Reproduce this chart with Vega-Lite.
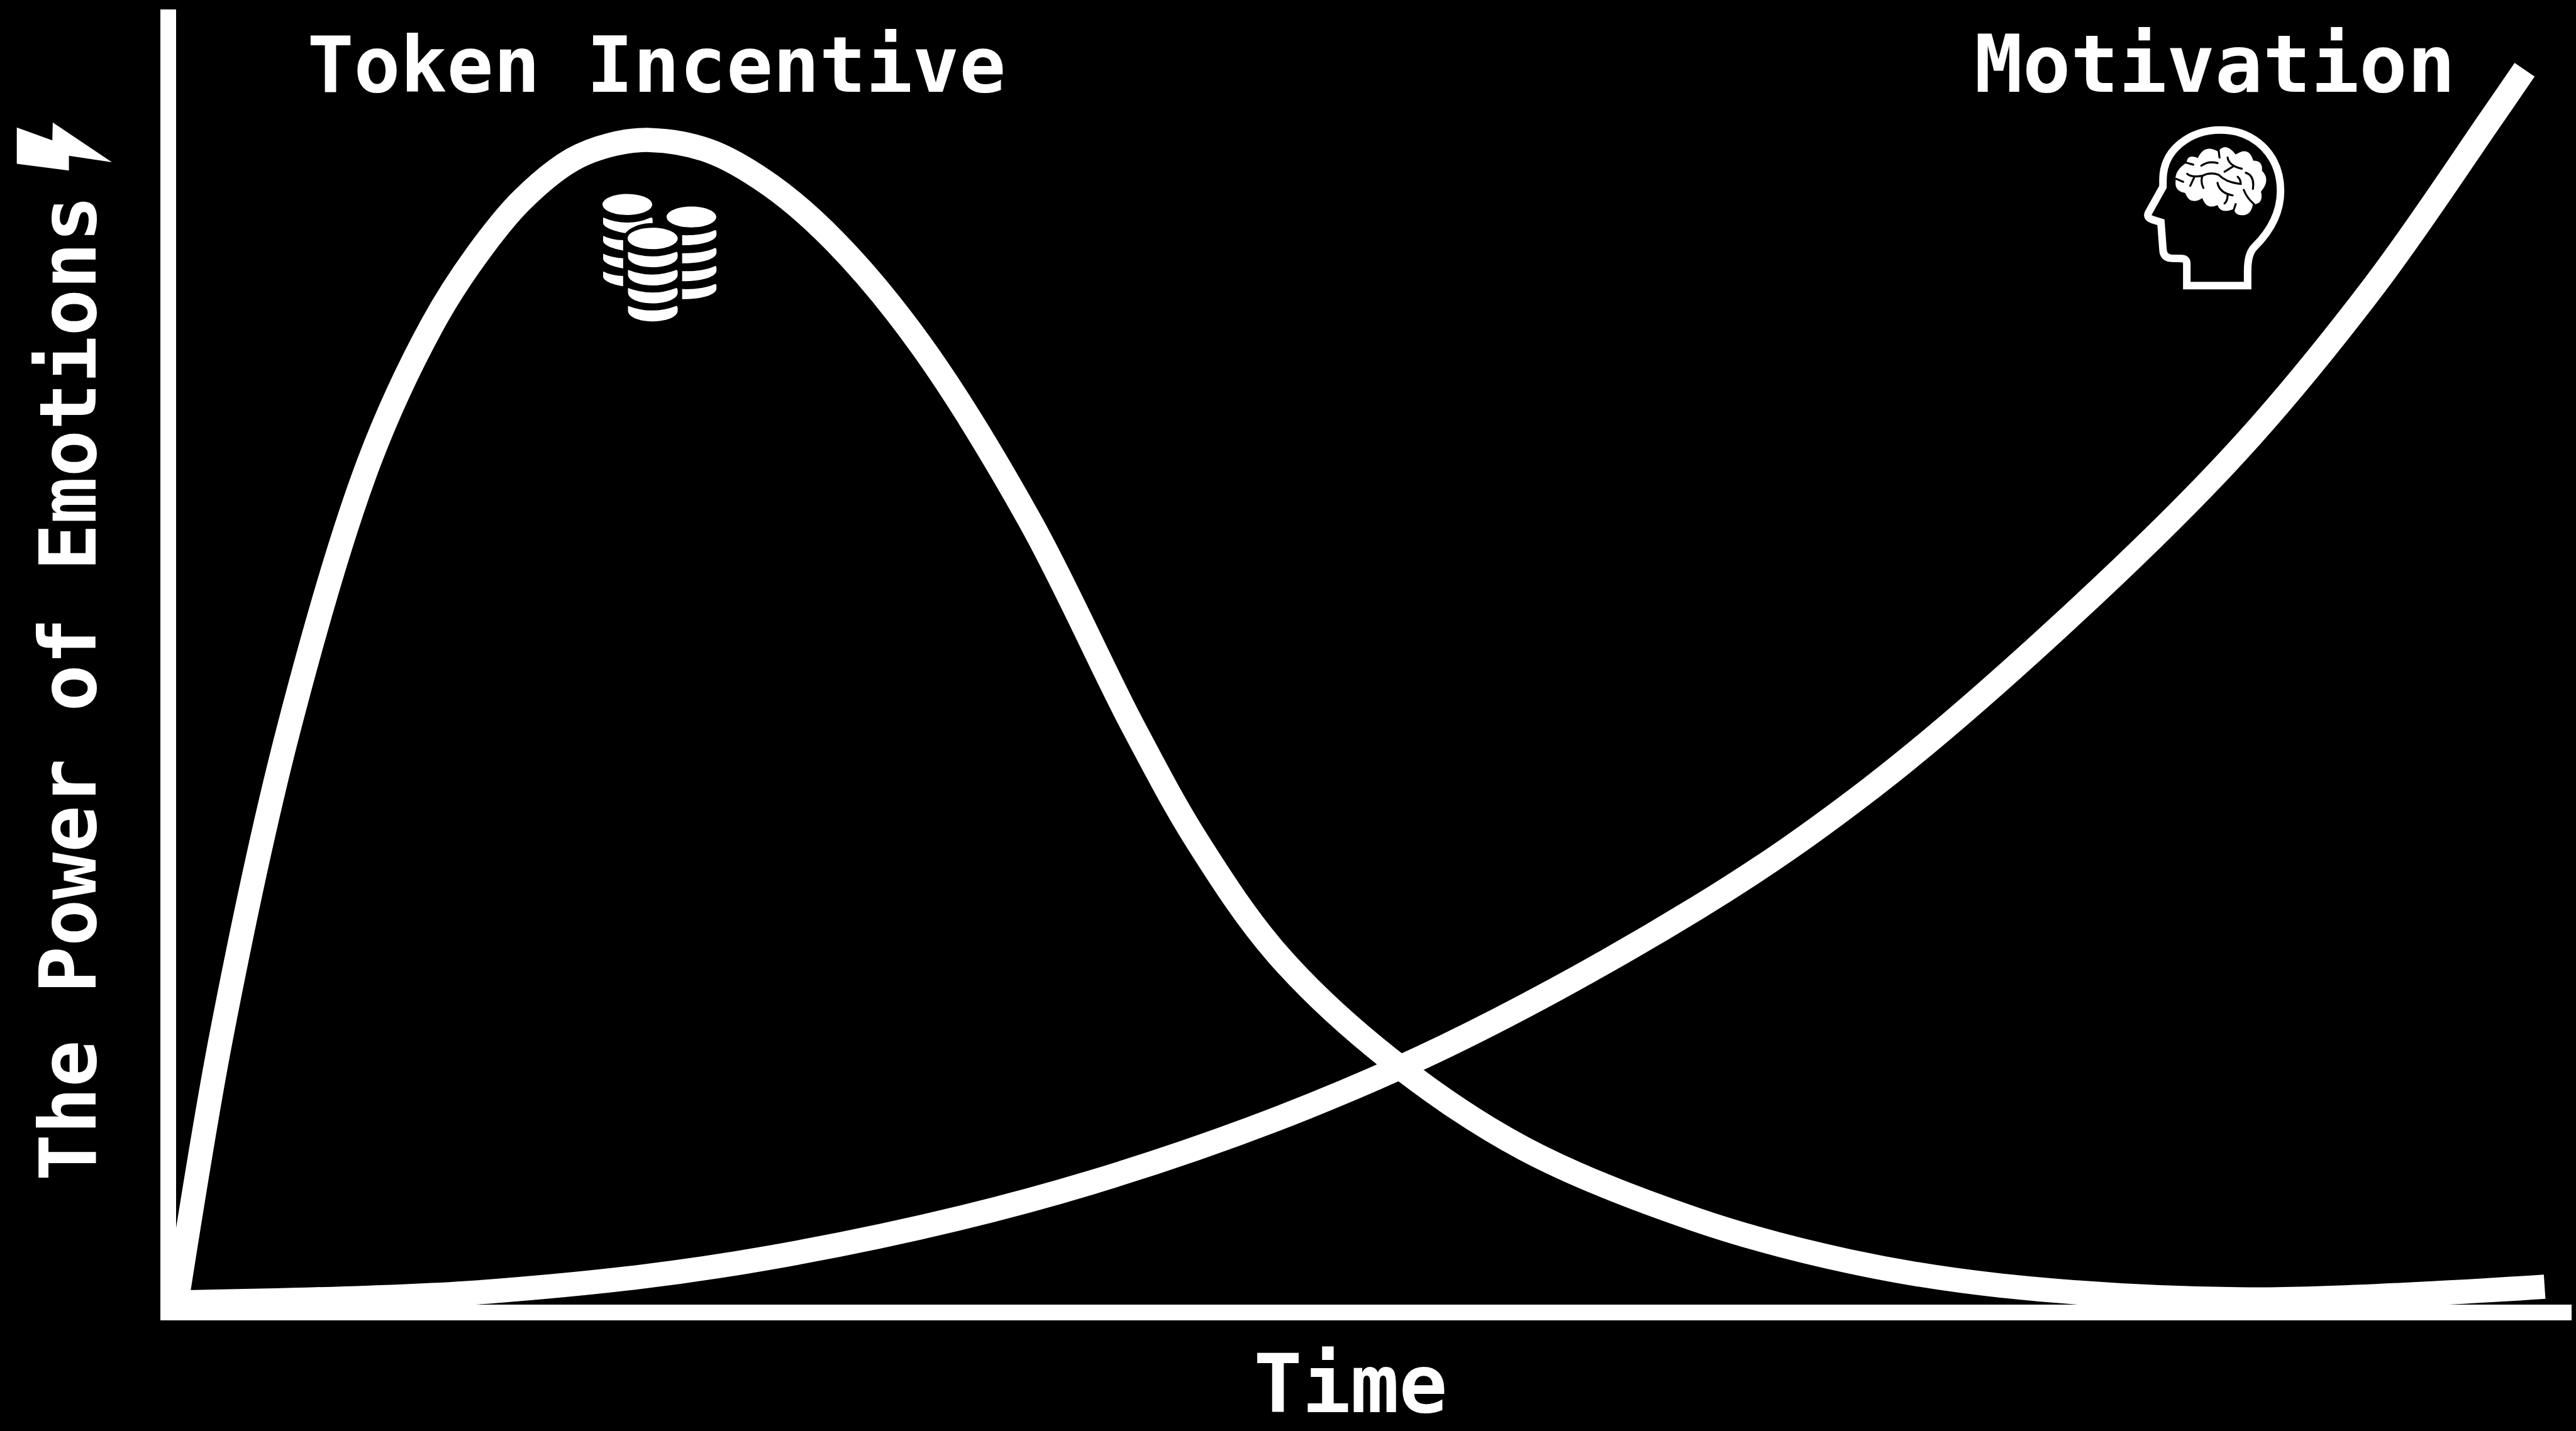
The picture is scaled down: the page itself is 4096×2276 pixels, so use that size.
{
"$schema":"https://vega.github.io/schema/vega-lite/v6.json",
"autosize":"none",
"width":3809,"height":2060,
"padding":{"left":267,"top":27,"right":20,"bottom":189},
"background":"#000000",
"view":{"stroke":null},
"encoding":{
"x":{"field":"time","type":"quantitative","scale":{"domain":[0,3952],"nice":false,"zero":false},
"axis":{"title":"Time","domainColor":"#ffffff","domainWidth":25,"domainCap":"square","ticks":false,"labels":false,"grid":false,"titleColor":"#ffffff","titleFont":"DejaVu Sans Mono","titleFontWeight":"bold","titleFontSize":128,"titleX":1880,"titleY":158,"titleAlign":"center","titleBaseline":"alphabetic"}},
"y":{"field":"power","type":"quantitative","scale":{"domain":[0,2137],"nice":false,"zero":false},
"axis":{"title":"The Power of Emotions","domainColor":"#ffffff","domainWidth":25,"domainCap":"square","ticks":false,"labels":false,"grid":false,"titleColor":"#ffffff","titleFont":"DejaVu Sans Mono","titleFontWeight":"bold","titleFontSize":124,"titleX":-116,"titleY":1067,"titleAngle":270,"titleAlign":"center","titleBaseline":"alphabetic"}}
},
"layer":[
{"data":{"values":[
{"series":"Token Incentive","time":14,"power":14},{"series":"Token Incentive","time":88,"power":455},{"series":"Token Incentive","time":200,"power":965},{"series":"Token Incentive","time":332,"power":1403},{"series":"Token Incentive","time":436,"power":1629},{"series":"Token Incentive","time":510,"power":1745},{"series":"Token Incentive","time":583,"power":1834},{"series":"Token Incentive","time":666,"power":1901},{"series":"Token Incentive","time":730,"power":1926},{"series":"Token Incentive","time":795,"power":1934},{"series":"Token Incentive","time":893,"power":1916},{"series":"Token Incentive","time":993,"power":1860},{"series":"Token Incentive","time":1102,"power":1765},{"series":"Token Incentive","time":1242,"power":1596},{"series":"Token Incentive","time":1422,"power":1306},{"series":"Token Incentive","time":1593,"power":965},{"series":"Token Incentive","time":1700,"power":774},{"series":"Token Incentive","time":1832,"power":589},{"series":"Token Incentive","time":2015,"power":418},{"series":"Token Incentive","time":2237,"power":270},{"series":"Token Incentive","time":2523,"power":152},{"series":"Token Incentive","time":2773,"power":84},{"series":"Token Incentive","time":3023,"power":44},{"series":"Token Incentive","time":3435,"power":21},{"series":"Token Incentive","time":3921,"power":42},
{"series":"Motivation","time":8,"power":16},{"series":"Motivation","time":529,"power":34},{"series":"Motivation","time":993,"power":90},{"series":"Motivation","time":1523,"power":214},{"series":"Motivation","time":2033,"power":404},{"series":"Motivation","time":2523,"power":667},{"series":"Motivation","time":2810,"power":865},{"series":"Motivation","time":3106,"power":1118},{"series":"Motivation","time":3412,"power":1418},{"series":"Motivation","time":3641,"power":1695},{"series":"Motivation","time":3833,"power":1970},{"series":"Motivation","time":3888,"power":2050}
]},
"mark":{"type":"line","stroke":"#ffffff","strokeWidth":38.5,"strokeCap":"butt","strokeJoin":"round","interpolate":"catmull-rom"},
"encoding":{"detail":{"field":"series"}}},
{"data":{"values":[{"label":"Token Incentive","time":806,"power":2014}]},
"mark":{"type":"text","fill":"#ffffff","font":"DejaVu Sans Mono","fontWeight":"bold","fontSize":123,"align":"center","baseline":"alphabetic"},
"encoding":{"text":{"field":"label"}}},
{"data":{"values":[{"label":"Motivation","time":3377,"power":2014}]},
"mark":{"type":"text","fill":"#ffffff","font":"DejaVu Sans Mono","fontWeight":"bold","fontSize":127,"align":"center","baseline":"alphabetic"},
"encoding":{"text":{"field":"label"}}},
{"data":{"values":[{"icon":"coins","time":803,"power":1742}]},
"mark":{"type":"point","filled":true,"fill":"#ffffff","opacity":1,"strokeWidth":0,"size":0.4128,"shape":"M-258,-257a123,52 0 1,0 246,0a123,52 0 1,0 -246,0ZM59,-195a123,52 0 1,0 246,0a123,52 0 1,0 -246,0ZM-134,-89a124,53 0 1,0 248,0a124,53 0 1,0 -248,0ZM-132,-23q120,46 240,0q6,2 6,14v10c0,30 -56,53 -124,53c-68,0 -122,-23 -122,-53ZM-132,67q120,46 240,0q6,2 6,14v10c0,30 -56,53 -124,53c-68,0 -122,-23 -122,-53ZM-132,156q120,46 240,0q6,2 6,14v10c0,30 -56,53 -124,53c-68,0 -122,-23 -122,-53ZM-132,245q120,46 240,0q6,2 6,14v10c0,30 -56,53 -124,53c-68,0 -122,-23 -122,-53ZM136,-105c60,2 120,-5 162,-25q8,-2 8,12v10c0,28 -60,53 -170,53ZM136,-16c60,2 120,-5 162,-25q8,-2 8,12v10c0,28 -60,53 -170,53ZM136,73c60,2 120,-5 162,-25q8,-2 8,12v10c0,28 -60,53 -170,53ZM136,162c60,2 120,-5 162,-25q8,-2 8,12v10c0,28 -60,53 -170,53ZM-255,-192q120,50 236,0q8,-2 9,10L-10,-165c-60,0 -110,20 -135,50c-60,-10 -110,-30 -110,-50ZM-255,-102q40,20 99,22v51c-60,-10 -99,-30 -99,-48ZM-255,-13q40,20 99,22v51c-60,-10 -99,-30 -99,-48ZM-255,75q40,20 99,22v51c-60,-10 -99,-30 -99,-48Z"}},
{"data":{"values":[{"icon":"head","time":3373,"power":1825}]},
"mark":{"type":"point","filled":false,"fill":null,"stroke":"#ffffff","opacity":1,"strokeWidth":12,"size":0.4128,"shape":"M-127,394L-127,285Q-127,262 -150,260L-205,258Q-243,255 -245,215L-255,80L-300,66Q-330,55 -315,30L-245,-95L-245,-130C-245,-280 -110,-377 40,-377C210,-377 337,-250 337,-75C337,50 270,140 210,200C185,225 174,260 174,325L174,394Z"}},
{"data":{"values":[{"icon":"brain","time":3373,"power":1825}]},
"mark":{"type":"point","filled":true,"fill":"#ffffff","opacity":1,"strokeWidth":0,"size":0.4128,"shape":"M-182,-125Q-190,-175 -128,-215Q-125,-260 -72,-238Q-40,-310 28,-270Q65,-320 115,-255Q180,-300 202,-225Q250,-225 245,-175Q290,-130 240,-72Q255,-10 200,-8Q190,50 140,45Q115,45 105,15Q40,40 25,-5Q-30,20 -50,-40Q-110,0 -135,-65Q-190,-75 -182,-125Z"}},
{"data":{"values":[{"icon":"brain folds","time":3373,"power":1825}]},
"mark":{"type":"point","filled":false,"fill":null,"stroke":"#000000","opacity":1,"strokeWidth":3.2,"strokeCap":"round","size":0.4128,"shape":"M-125,-160Q-105,-140 -50,-150Q-10,-170 30,-155Q70,-115 140,-110Q140,-130 125,-145M-50,-148Q-60,-120 -45,-90M-90,-143L-110,-100M-55,-200Q-20,-225 25,-213M75,-240Q80,-200 145,-185M100,-195L60,-170M165,-165Q210,-150 200,-85M25,-115Q35,-65 100,-53M75,-55Q75,-25 60,-13M155,-80Q170,-40 205,-10M-180,-135L-145,-120M-130,-215L-95,-205M115,-10L105,20M30,-280L35,-240"}},
{"data":{"values":[{"icon":"lightning","time":-170,"power":1923}]},
"mark":{"type":"point","filled":true,"fill":"#ffffff","opacity":1,"strokeWidth":0,"size":0.4128,"shape":"M-238,-95L-62,-31L-60,-120L233,77L20,45L20,118L-238,85Z"}}
]
}
